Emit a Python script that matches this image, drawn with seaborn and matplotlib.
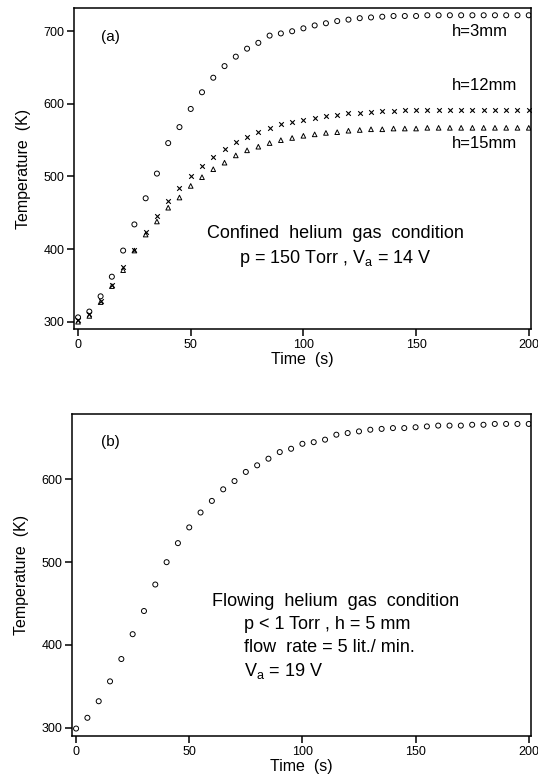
import numpy as np
import pandas as pd
import seaborn as sns
import matplotlib
matplotlib.use("Agg")
import matplotlib.pyplot as plt

sns.set_style("ticks")
plt.rcParams['font.family'] = ['Liberation Sans', 'DejaVu Sans']
plt.rcParams['mathtext.fontset'] = 'custom'
plt.rcParams['mathtext.rm'] = 'Liberation Sans'
plt.rcParams['mathtext.it'] = 'Liberation Sans'
plt.rcParams['text.color'] = 'black'
plt.rcParams['axes.labelcolor'] = 'black'
plt.rcParams['xtick.color'] = 'black'
plt.rcParams['ytick.color'] = 'black'

time_s = list(range(0, 201, 5))

# Panel (a): confined helium gas, p = 150 Torr, Va = 14 V
temp_h3 = [306, 314, 335, 362, 398, 434, 470, 504, 546, 568,
           593, 616, 636, 652, 665, 676, 684, 694, 697, 700,
           704, 708, 711, 714, 716, 718, 719, 720, 721, 721,
           721, 722, 722, 722, 722, 722, 722, 722, 722, 722, 722]
temp_h12 = [303, 310, 329, 351, 375, 399, 424, 446, 466, 484,
            501, 514, 527, 538, 547, 555, 561, 567, 572, 575,
            578, 581, 583, 585, 587, 588, 589, 590, 590, 591,
            591, 591, 592, 592, 592, 592, 592, 592, 592, 592, 592]
temp_h15 = [300, 308, 327, 349, 371, 398, 420, 438, 457, 471,
            487, 499, 510, 519, 529, 536, 541, 546, 550, 553,
            556, 558, 560, 561, 563, 564, 565, 565, 566, 566,
            566, 567, 567, 567, 567, 567, 567, 567, 567, 567, 567]

# Panel (b): flowing helium gas
temp_flow = [299, 312, 332, 356, 383, 413, 441, 473, 500, 523,
             542, 560, 574, 588, 598, 609, 617, 625, 633, 637,
             643, 645, 648, 654, 656, 658, 660, 661, 662, 662,
             663, 664, 665, 665, 665, 666, 666, 667, 667, 667, 667]

x_ticks = [0, 50, 100, 150, 200]
y_ticks_a = [300, 400, 500, 600, 700]
y_ticks_b = [300, 400, 500, 600]

fig = plt.figure(figsize=(5.38, 7.80), dpi=100)
ax_a = fig.add_axes([74/538, 1-329/780, 457/538, 321/780])
ax_b = fig.add_axes([72/538, 1-736/780, 459/538, 322/780])

df_a = pd.DataFrame({'t': time_s, 'h3': temp_h3, 'h12': temp_h12, 'h15': temp_h15})
df_b = pd.DataFrame({'t': time_s, 'T': temp_flow})

ms = 13
sns.scatterplot(data=df_a, x='t', y='h3', ax=ax_a, marker='o', s=ms,
                facecolor='none', edgecolor='black', linewidth=0.7, zorder=3)
sns.scatterplot(data=df_a, x='t', y='h12', ax=ax_a, marker='x', s=11,
                color='black', linewidth=0.8, zorder=3)
sns.scatterplot(data=df_a, x='t', y='h15', ax=ax_a, marker='^', s=11,
                facecolor='none', edgecolor='black', linewidth=0.7, zorder=3)
sns.scatterplot(data=df_b, x='t', y='T', ax=ax_b, marker='o', s=ms,
                facecolor='none', edgecolor='black', linewidth=0.7, zorder=3)

for ax, yt, ylim in [(ax_a, y_ticks_a, (290, 732)), (ax_b, y_ticks_b, (290, 679))]:
    ax.set_xlim(-1.8, 201)
    ax.set_ylim(*ylim)
    ax.set_xticks(x_ticks)
    ax.set_yticks(yt)
    ax.tick_params(axis='both', direction='out', length=5, width=1.1,
                   labelsize=9, colors='black', pad=2)
    for sp in ax.spines.values():
        sp.set_visible(True)
        sp.set_linewidth(1.1)
        sp.set_color('black')
    ax.set_xlabel('Time  (s)', fontsize=11.5, labelpad=1, color='black')
    ax.set_ylabel('Temperature  (K)', fontsize=11.5, labelpad=9, color='black')

# Panel (a) annotations
ax_a.text(14.2, 692, '(a)', fontsize=11, ha='center', va='center')
ax_a.text(166, 700, 'h=3mm', fontsize=12, ha='left', va='center')
ax_a.text(166, 625, 'h=12mm', fontsize=12, ha='left', va='center')
ax_a.text(166, 545, 'h=15mm', fontsize=12, ha='left', va='center')
ax_a.text(114, 422, 'Confined  helium  gas  condition', fontsize=13,
          ha='center', va='center')
ax_a.text(114, 387, 'p = 150 Torr , V$_\\mathrm{a}$ = 14 V', fontsize=13,
          ha='center', va='center')

# Panel (b) annotations
ax_b.text(15, 645, '(b)', fontsize=11, ha='center', va='center')
ax_b.text(114.5, 453, 'Flowing  helium  gas  condition', fontsize=13,
          ha='center', va='center')
ax_b.text(74, 425, 'p < 1 Torr , h = 5 mm', fontsize=13, ha='left', va='center')
ax_b.text(74, 397, 'flow  rate = 5 lit./ min.', fontsize=13, ha='left', va='center')
ax_b.text(74, 368, 'V$_\\mathrm{a}$ = 19 V', fontsize=13, ha='left', va='center')

fig.savefig('out.png', dpi=100)
